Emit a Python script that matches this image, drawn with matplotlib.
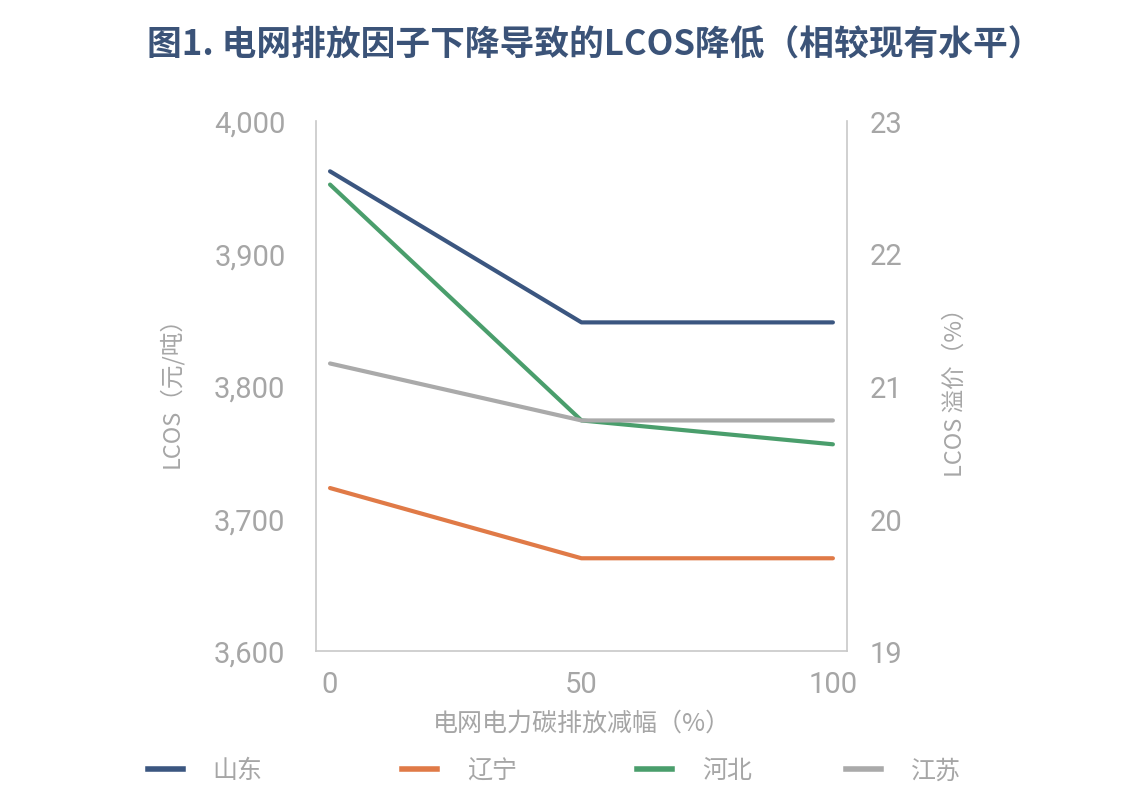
# -*- coding: UTF-8 -*-
import matplotlib
matplotlib.use('Agg')
import matplotlib.pyplot as plt
from matplotlib.lines import Line2D

plt.rcParams['font.family'] = ['Noto Sans CJK SC', 'DejaVu Sans']

# 数据
x_vals = [0, 50, 100]
shandong = [3962, 3848, 3848]
liaoning = [3723, 3670, 3670]
hebei = [3952, 3774, 3756]
jiangsu = [3817, 3774, 3774]

names = ['山东', '辽宁', '河北', '江苏']
colors = ['#3b5680', '#e07a47', '#4a9e6c', '#aaaaaa']
series = [shandong, liaoning, hebei, jiangsu]

gray = '#a6a6a6'
title_color = '#3b5378'

fig = plt.figure(figsize=(11.26, 8.12), dpi=100)
ax = fig.add_axes([0.2806, 0.197, 0.4716, 0.6528])

for name, c, s in zip(names, colors, series):
    ax.plot(x_vals, s, color=c, lw=3, label=name, solid_capstyle='round')

ax.set_xlim(-2.8, 102.8)
ax.set_ylim(3600, 4000)
ax.set_yticks([3600, 3700, 3800, 3900, 4000])
ax.set_yticklabels(['3,600', '3,700', '3,800', '3,900', '4,000'])
ax.set_xticks(x_vals)
ax.set_xticklabels(['0', '50', '100'])

for sp in ['top', 'right']:
    ax.spines[sp].set_visible(False)
for sp in ['left', 'bottom']:
    ax.spines[sp].set_color('#c8c8c8')
    ax.spines[sp].set_linewidth(1.2)

ax.tick_params(axis='both', length=0, colors=gray, labelsize=21)
ax.tick_params(axis='y', pad=22)
ax.tick_params(axis='x', pad=14)
for lb in ax.get_xticklabels() + ax.get_yticklabels():
    lb.set_family(['Roboto', 'DejaVu Sans'])

ax.set_ylabel('LCOS（元/吨）', color=gray, fontsize=17, labelpad=22)
ax.set_xlabel('电网电力碳排放减幅（%）', color=gray, fontsize=18, labelpad=8)

# 右轴
ax2 = ax.twinx()
ax2.set_ylim(19, 23)
ax2.set_yticks([19, 20, 21, 22, 23])
for sp in ['top', 'left', 'bottom']:
    ax2.spines[sp].set_visible(False)
ax2.spines['right'].set_color('#c8c8c8')
ax2.spines['right'].set_linewidth(1.2)
ax2.tick_params(axis='y', length=0, colors=gray, labelsize=21, pad=16)
for lb in ax2.get_yticklabels():
    lb.set_family(['Roboto', 'DejaVu Sans'])
ax2.set_ylabel('LCOS 溢价（%）', color=gray, fontsize=17, labelpad=30)

fig.text(0.528, 0.944, '图1. 电网排放因子下降导致的LCOS降低（相较现有水平）',
         ha='center', va='center', fontsize=25, fontweight='bold', color=title_color)

# 图例：每项单独放置，模仿原图不均匀的间距
leg_x = [0.131, 0.357, 0.566, 0.751]
for name, c, lx in zip(names, colors, leg_x):
    h = Line2D([], [], color=c, lw=4)
    leg = fig.legend([h], [name], loc='center left', bbox_to_anchor=(lx, 0.05),
                     frameon=False, fontsize=18, handlelength=1.4,
                     handletextpad=1.2, borderaxespad=0, borderpad=0)
    for t in leg.get_texts():
        t.set_color(gray)

fig.savefig('out.png', dpi=100)
